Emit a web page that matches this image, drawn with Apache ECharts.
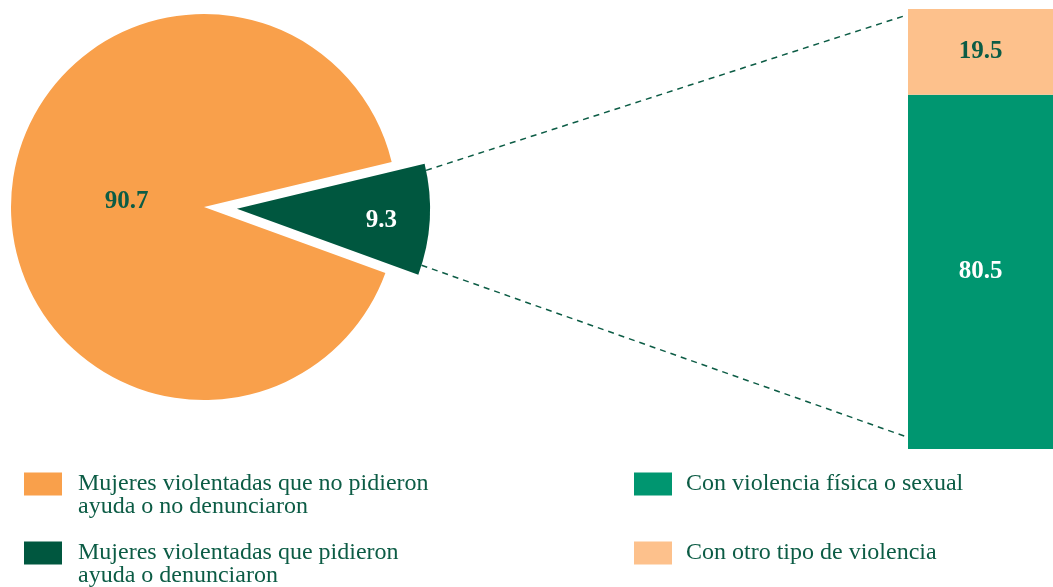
<!DOCTYPE html>
<html><head><meta charset="utf-8">
<script src="https://cdn.jsdelivr.net/npm/echarts@6/dist/echarts.min.js"></script>
<style>html,body{margin:0;padding:0;background:#fff}#c{width:1053px;height:587px}</style>
</head><body><div id="c"></div>
<script>
const pieNames = ['Mujeres violentadas que pidieron\nayuda o denunciaron', 'Mujeres violentadas que no pidieron\nayuda o no denunciaron'];
const pieValues = [9.3, 90.7];
const barNames = ['Con violencia física o sexual', 'Con otro tipo de violencia'];
const barValues = [80.5, 19.5];

const C_ORANGE = '#F9A04B', C_DARK = '#00573F', C_GREEN = '#009670', C_LIGHT = '#FDC18C', C_TEXT = '#0C5C45';
const FONT = '"Liberation Serif", "Times New Roman", serif';
const PIE_CENTER = [204, 207], PIE_R = 193, START = 13.5, OFFSET = 33;

const chart = echarts.init(document.getElementById('c'), null, {renderer: 'canvas'});
const legendText = (pad) => ({fontFamily: FONT, fontSize: 24, color: C_TEXT, lineHeight: 23, padding: pad});
chart.setOption({
  animation: false,
  legend: [
    {data: [pieNames[1], pieNames[0]], orient: 'vertical', left: 24, top: 449, height: 200, padding: 0,
     itemWidth: 38, itemHeight: 23, itemGap: -1, icon: 'rect', selectedMode: false,
     formatter: (n) => '\n' + n,
     textStyle: legendText([0, 0, 0, 11])},
    {data: barNames, orient: 'vertical', left: 634, top: 472, height: 200, padding: 0,
     itemWidth: 38, itemHeight: 23, itemGap: 45, icon: 'rect', selectedMode: false,
     textStyle: legendText([0, 0, 0, 9])}
  ],
  grid: {left: 908, right: 0, top: 9, bottom: 138},
  xAxis: {type: 'category', data: [''], show: false},
  yAxis: {type: 'value', min: 0, max: 100, show: false},
  series: [
    {type: 'pie', center: PIE_CENTER, radius: PIE_R, startAngle: START, clockwise: true,
     selectedMode: 'single', selectedOffset: OFFSET, emphasis: {disabled: true}, silent: true,
     label: {position: 'inside', formatter: '{c}', fontFamily: FONT, fontSize: 25, fontWeight: 'bold'},
     labelLine: {show: false},
     labelLayout: function (p) {
       return p.dataIndex === 0 ? {dx: 45, dy: 6} : {dx: 11, dy: 0};
     },
     data: [
       {name: pieNames[0], value: pieValues[0], selected: true, itemStyle: {color: C_DARK}, label: {color: '#fff'}},
       {name: pieNames[1], value: pieValues[1], itemStyle: {color: C_ORANGE}, label: {color: C_TEXT}}
     ]},
    {type: 'bar', name: barNames[0], stack: 's', barWidth: '100%', data: [barValues[0]],
     itemStyle: {color: C_GREEN}, emphasis: {disabled: true}, silent: true,
     label: {show: true, position: 'inside', fontFamily: FONT, fontSize: 25, fontWeight: 'bold', color: '#fff'}},
    {type: 'bar', name: barNames[1], stack: 's', barWidth: '100%', data: [barValues[1]],
     itemStyle: {color: C_LIGHT}, emphasis: {disabled: true}, silent: true,
     label: {show: true, position: 'inside', fontFamily: FONT, fontSize: 25, fontWeight: 'bold', color: C_TEXT}}
  ]
});

// connector lines from exploded slice to the bar
const span = pieValues[0] / (pieValues[0] + pieValues[1]) * 360;
const mid = (START - span / 2) * Math.PI / 180;
const tip = [PIE_CENTER[0] + OFFSET * Math.cos(mid), PIE_CENTER[1] - OFFSET * Math.sin(mid)];
const a1 = (START - 2) * Math.PI / 180, a2 = (START - span + 3) * Math.PI / 180;
const p1 = [tip[0] + PIE_R * Math.cos(a1), tip[1] - PIE_R * Math.sin(a1)];
const p2 = [tip[0] + PIE_R * Math.cos(a2), tip[1] - PIE_R * Math.sin(a2)];
const barTop = chart.convertToPixel({gridIndex: 0}, [0, 100]);
const barBot = chart.convertToPixel({gridIndex: 0}, [0, 0]);
const barLeft = 908;
const lineStyle = {stroke: C_TEXT, lineWidth: 1.5, lineDash: [6, 5]};
chart.setOption({
  graphic: [
    {type: 'line', shape: {x1: p1[0], y1: p1[1], x2: barLeft - 1, y2: barTop[1] + 6}, style: lineStyle, silent: true},
    {type: 'line', shape: {x1: p2[0], y1: p2[1], x2: barLeft - 1, y2: barBot[1] - 12}, style: lineStyle, silent: true}
  ]
});
</script></body></html>
